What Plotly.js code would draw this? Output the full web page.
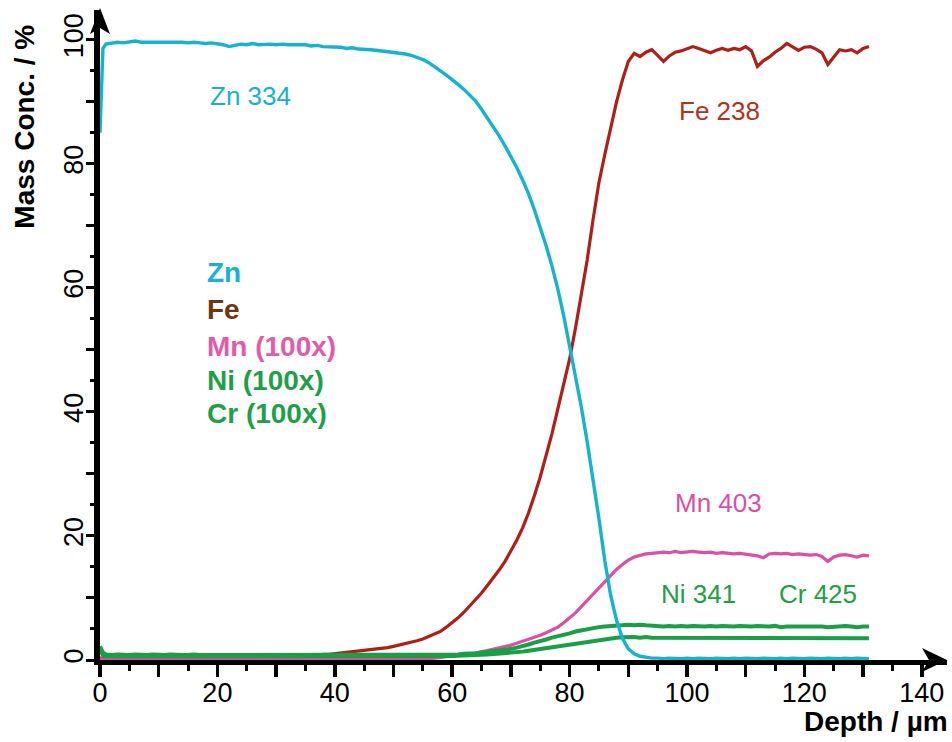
<!DOCTYPE html>
<html><head><meta charset="utf-8">
<script src="https://cdn.plot.ly/plotly-3.0.1.min.js"></script>
<style>html,body{margin:0;padding:0;background:#fff;}#chart{width:952px;height:742px;}</style>
</head><body><div id="chart"></div>
<script>
const depth = [0,0.5,
 1,2,3,4,5,6,7,8,9,10, 11,12,13,14,15,16,17,18,19,20, 21,22,23,24,25,26,27,28,29,30,
 31,32,33,34,35,36,37,38,39,40, 41,42,43,44,45,46,47,48,49,50, 51,52,53,54,55,56,57,58,59,60,
 61,62,63,64,65,66,67,68,69,70, 71,72,73,74,75,76,77,78,79,80, 81,82,83,84,85,86,87,88,89,90,
 91,92,93,94,95,96,97,98,99,100, 101,102,103,104,105,106,107,108,109,110, 111,112,113,114,115,116,117,118,119,120,
 121,122,123,124,125,126,127,128,129,130,131];

const zn = [85,98.6,
 99.3,99.5,99.6,99.5,99.7,99.8,99.6,99.6,99.7,99.7,
 99.6,99.7,99.6,99.6,99.5,99.6,99.5,99.4,99.5,99.4,
 99.2,98.9,99.1,99.3,99.2,99.4,99.2,99.3,99.3,99.2,
 99.3,99.2,99.2,99.1,99.2,99.0,99.1,98.9,98.9,98.8,
 98.8,98.6,98.7,98.5,98.5,98.4,98.3,98.2,98.1,98.0,
 97.9,97.7,97.5,97.2,96.8,96.3,95.7,95.0,94.3,93.6,
 92.8,92.0,91.1,90.1,88.8,87.4,86.0,84.5,82.9,81.2,
 79.4,77.4,75.2,72.6,69.8,66.8,63.5,59.8,55.5,50.8,
 46.0,40.8,35.2,29.2,22.8,16.0,10.4,6.4,3.5,1.8,
 1.0,0.6,0.4,0.3,0.3,0.2,0.3,0.2,0.2,0.3,
 0.2,0.3,0.2,0.2,0.3,0.2,0.2,0.3,0.2,0.3,
 0.2,0.2,0.3,0.2,0.2,0.3,0.2,0.3,0.2,0.2,
 0.3,0.2,0.2,0.3,0.2,0.2,0.3,0.2,0.3,0.2,0.2];

const fe = [0.3,0.3,
 0.4,0.4,0.4,0.4,0.4,0.4,0.4,0.4,0.4,0.4,
 0.4,0.4,0.4,0.4,0.4,0.4,0.4,0.4,0.4,0.4,
 0.4,0.4,0.4,0.4,0.4,0.4,0.4,0.4,0.4,0.4,
 0.4,0.4,0.5,0.5,0.6,0.6,0.7,0.9,0.9,1.0,
 1.1,1.2,1.3,1.4,1.5,1.6,1.7,1.8,2.0,2.2,
 2.4,2.6,2.8,3.1,3.4,3.8,4.2,4.6,5.3,6.0,
 6.8,7.7,8.7,9.7,10.8,12.0,13.2,14.5,15.9,17.5,
 19.3,21.3,23.7,26.5,29.5,33.0,36.5,40.5,44.5,48.5,
 53.5,59.0,64.5,71.0,77.0,81.5,86.0,90.0,93.5,96.5,
 97.8,97.3,98.0,98.4,97.5,96.5,97.4,98.0,98.2,98.5,
 98.9,98.6,98.3,97.9,98.3,98.6,98.3,98.6,98.4,98.9,
 98.2,95.7,96.6,97.2,98.0,98.6,99.4,98.8,98.3,98.8,
 98.9,98.5,97.9,96.0,97.2,98.4,98.2,98.4,97.9,98.6,98.9];

const mn = [0.2,0.1,
 0.1,0.1,0.1,0.1,0.1,0.1,0.1,0.1,0.1,0.1,
 0.1,0.1,0.1,0.1,0.1,0.1,0.1,0.1,0.1,0.1,
 0.1,0.1,0.1,0.1,0.1,0.1,0.1,0.1,0.1,0.1,
 0.1,0.1,0.1,0.1,0.1,0.1,0.1,0.1,0.1,0.1,
 0.1,0.1,0.1,0.1,0.1,0.1,0.1,0.1,0.1,0.1,
 0.1,0.1,0.1,0.1,0.1,0.2,0.3,0.4,0.5,0.6,
 0.7,0.8,0.9,1.1,1.3,1.5,1.7,1.9,2.1,2.4,
 2.7,3.0,3.3,3.6,4.0,4.4,4.8,5.3,6.0,6.8,
 7.6,8.6,9.6,10.6,11.6,12.6,13.6,14.6,15.4,16.1,
 16.6,16.9,17.1,17.2,17.3,17.4,17.3,17.5,17.3,17.4,
 17.5,17.4,17.3,17.4,17.2,17.3,17.2,17.1,17.2,17.1,
 16.9,16.8,16.5,17.1,17.2,17.1,17.2,17.0,17.1,17.0,
 16.9,17.0,16.7,15.9,16.6,16.9,17.0,16.8,16.6,16.9,16.8];

const ni = [2.2,1.2,
 0.9,0.8,0.9,0.8,0.8,0.9,0.8,0.8,0.9,0.8,
 0.8,0.9,0.8,0.8,0.8,0.9,0.8,0.8,0.9,0.8,
 0.8,0.8,0.9,0.8,0.8,0.8,0.9,0.8,0.8,0.8,
 0.9,0.8,0.8,0.8,0.9,0.8,0.8,0.8,0.9,0.8,
 0.8,0.9,0.8,0.8,0.8,0.9,0.8,0.8,0.8,0.9,
 0.8,0.8,0.9,0.8,0.8,0.9,0.8,0.9,0.9,0.9,
 0.9,1.0,1.0,1.1,1.2,1.3,1.4,1.5,1.6,1.8,
 2.0,2.2,2.5,2.8,3.0,3.3,3.6,3.8,4.1,4.3,
 4.6,4.8,5.0,5.1,5.3,5.4,5.5,5.6,5.7,5.7,
 5.6,5.7,5.6,5.5,5.5,5.4,5.5,5.4,5.5,5.4,
 5.5,5.4,5.4,5.5,5.4,5.5,5.4,5.4,5.5,5.4,
 5.4,5.5,5.4,5.4,5.5,5.3,5.4,5.4,5.5,5.4,
 5.4,5.5,5.4,5.3,5.4,5.4,5.5,5.4,5.3,5.4,5.4];

const cr = [1.5,0.8,
 0.6,0.6,0.5,0.6,0.6,0.6,0.5,0.6,0.6,0.6,
 0.6,0.5,0.6,0.6,0.6,0.6,0.5,0.6,0.6,0.6,
 0.6,0.6,0.5,0.6,0.6,0.6,0.6,0.5,0.6,0.6,
 0.6,0.6,0.6,0.5,0.6,0.6,0.6,0.6,0.5,0.6,
 0.6,0.6,0.5,0.6,0.6,0.6,0.6,0.6,0.5,0.6,
 0.6,0.6,0.6,0.6,0.6,0.6,0.6,0.6,0.6,0.65,
 0.7,0.7,0.75,0.8,0.85,0.9,0.95,1.0,1.05,1.1,
 1.2,1.35,1.5,1.65,1.8,1.95,2.05,2.2,2.35,2.5,
 2.65,2.8,3.0,3.15,3.3,3.4,3.5,3.6,3.65,3.7,
 3.7,3.6,3.7,3.6,3.6,3.5,3.6,3.6,3.5,3.6,
 3.6,3.5,3.6,3.6,3.5,3.6,3.6,3.5,3.6,3.6,
 3.5,3.6,3.6,3.5,3.6,3.6,3.5,3.6,3.5,3.6,
 3.6,3.5,3.6,3.6,3.5,3.6,3.6,3.5,3.6,3.6,3.5];

const majorTicksX = [0,10,20,30,40,50,60,70,80,90,100,110,120,130,140];
const tickTextX = ['0','','20','','40','','60','','80','','100','','120','','140'];
const majorTicksY = [0,10,20,30,40,50,60,70,80,90,100];
const tickTextY = ['0','','20','','40','','60','','80','','100'];

const peakLabels = [
  {text:'Zn 334', x:25.6, y:91.0, color:'#1ab0cf'},
  {text:'Fe 238', x:105.6, y:88.5, color:'#b0321c'},
  {text:'Mn 403', x:105.4, y:25.3, color:'#dc4fa2'},
  {text:'Ni 341', x:102.0, y:10.6, color:'#20a044'},
  {text:'Cr 425', x:122.3, y:10.6, color:'#20a044'}
];
const legendLines = [
  {text:'Zn', y:62.4, color:'#18b2d2'},
  {text:'Fe', y:56.5, color:'#6e3512'},
  {text:'Mn (100x)', y:50.6, color:'#e45aa6'},
  {text:'Ni (100x)', y:45.1, color:'#1e9f48'},
  {text:'Cr (100x)', y:39.8, color:'#1e9f48'}
];

const FONT = 'Arial, "Liberation Sans", sans-serif';

const traces = [
  {x:depth, y:fe, name:'Fe', mode:'lines', line:{color:'#b01e18', width:3.2}},
  {x:depth, y:mn, name:'Mn', mode:'lines', line:{color:'#dd4fa4', width:3.2}},
  {x:depth, y:cr, name:'Cr', mode:'lines', line:{color:'#19a047', width:4}},
  {x:depth, y:ni, name:'Ni', mode:'lines', line:{color:'#19a047', width:4}},
  {x:depth, y:zn, name:'Zn', mode:'lines', line:{color:'#14b4cf', width:3.4}}
];

const annotations = [];
peakLabels.forEach(p => annotations.push({text:p.text, x:p.x, y:p.y, xref:'x', yref:'y', showarrow:false,
  xanchor:'center', yanchor:'middle', font:{family:FONT, size:26, color:p.color}}));
legendLines.forEach(p => annotations.push({text:'<b>'+p.text+'</b>', x:(205-100)/847, y:p.y, xref:'paper', yref:'y',
  xanchor:'left', yanchor:'middle', showarrow:false, font:{family:FONT, size:28, color:p.color}}));
annotations.push({text:'<b>Mass Conc. / %</b>', textangle:-90, x:-0.0885, xanchor:'center', y:86, yanchor:'middle',
  xref:'paper', yref:'y', showarrow:false, font:{family:FONT, size:28, color:'#000'}});
annotations.push({text:'<b>Depth / µm</b>', x:1.004, xanchor:'right', y:-0.095, yanchor:'middle', xref:'paper', yref:'paper',
  showarrow:false, font:{family:FONT, size:28, color:'#000'}});

const shapes = [
  {type:'path', xref:'paper', yref:'paper', path:'M 0 1.003 L -0.0118 0.963 L 0 0.9723 L 0.0118 0.963 Z',
   fillcolor:'#000', line:{width:0}},
  {type:'path', xref:'paper', yref:'paper', path:'M 1.0 0 L 0.9705 0.01846 L 0.9787 0 L 0.9705 -0.01846 Z',
   fillcolor:'#000', line:{width:0}}
];

const layout = {
  width:952, height:742,
  margin:{l:100, r:5, t:10, b:82, pad:0},
  paper_bgcolor:'#fff', plot_bgcolor:'#fff',
  showlegend:false,
  font:{family:FONT, color:'#000'},
  xaxis:{range:[0,144.3], showgrid:false, zeroline:false, showline:true, linecolor:'#000', linewidth:5,
    tickmode:'array', tickvals:majorTicksX, ticktext:tickTextX, ticks:'outside', ticklen:12, tickwidth:3.5, tickcolor:'#000',
    minor:{dtick:5, tick0:0, ticks:'outside', ticklen:6, tickwidth:3, tickcolor:'#000', showgrid:false},
    ticklabelstandoff:-7,
    tickfont:{family:FONT, size:27, color:'#000'}},
  yaxis:{range:[0,104.8], showgrid:false, zeroline:false, showline:true, linecolor:'#000', linewidth:6,
    tickmode:'array', tickvals:majorTicksY, ticktext:tickTextY, ticks:'outside', ticklen:8, tickwidth:3, tickcolor:'#000',
    minor:{dtick:5, tick0:0, ticks:'outside', ticklen:4, tickwidth:3, tickcolor:'#000', showgrid:false},
    ticklabelstandoff:-8,
    tickangle:-90, tickfont:{family:FONT, size:27, color:'#000'}},
  annotations:annotations,
  shapes:shapes
};

Plotly.newPlot('chart', traces, layout, {displayModeBar:false, staticPlot:true});
</script>
</body></html>
